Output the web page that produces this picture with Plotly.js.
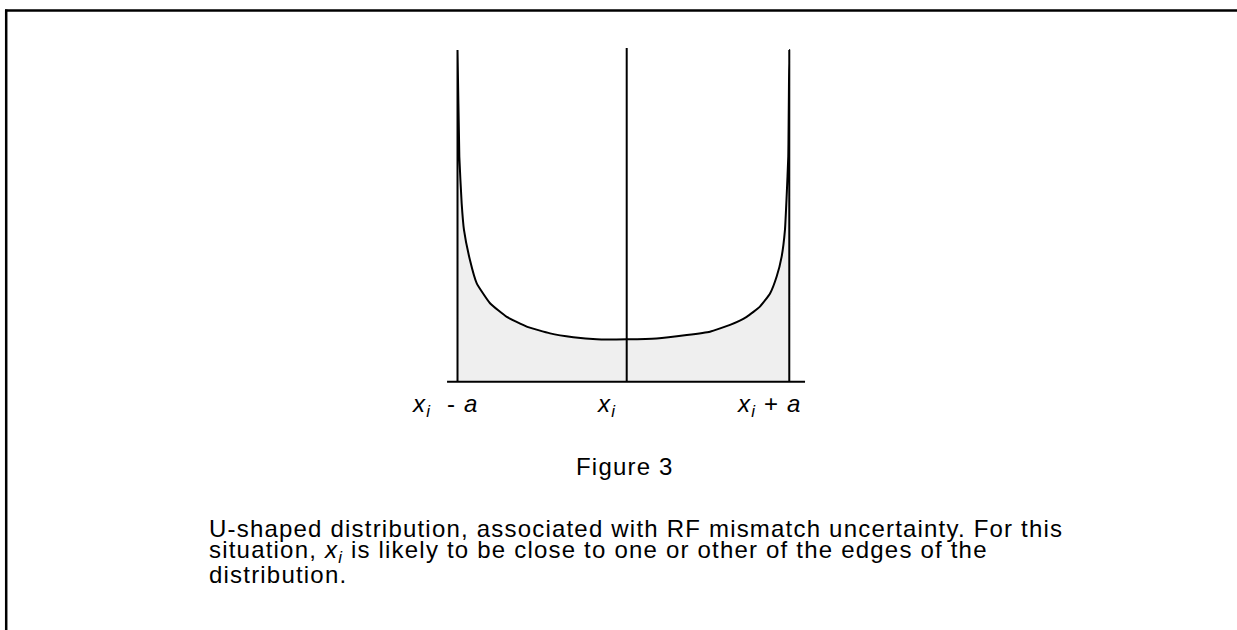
<!DOCTYPE html>
<html>
<head>
<meta charset="utf-8">
<script src="https://cdn.plot.ly/plotly-3.0.1.min.js"></script>
<style>
  html, body { margin: 0; padding: 0; background: #fff; }
  #grafico { width: 1237px; height: 630px; }
  /* o texto original e um pouco mais largo que a Liberation Sans
     (sem prefixo de id para valer tambem no clone que o Plotly mede) */
  .annotation-text { letter-spacing: 1.2px; }
</style>
</head>
<body>
<div id="grafico"></div>
<script>
// x em unidades de a (paredes em -1 e +1), y relativo ao minimo da curva
const curvaX = [-1, -1, -0.989, -0.975, -0.961, -0.925, -0.884, -0.804, -0.703, -0.583, -0.442, -0.302, -0.161,
  0.02, 0.2, 0.382, 0.522, 0.643, 0.743, 0.823, 0.884, 0.924, 0.954, 0.974, 0.984, 0.994, 1, 1];
const curvaY = [0, 7.82, 5.31, 4.21, 3.58, 2.87, 2.32, 1.85, 1.53, 1.30, 1.14, 1.05, 1.00,
  1.00, 1.02, 1.10, 1.18, 1.34, 1.53, 1.77, 2.08, 2.48, 2.95, 3.58, 4.36, 5.31, 7.82, 0];

const centroX = [0.02, 0.02];
const centroY = [0, 7.87];

const baseX = [-1.063, 1.095];
const baseY = [0, 0];

const rotulos = [
  '<i>x</i><sub><i>i</i></sub>&nbsp; - <i>a</i>',
  '<i>x</i><sub><i>i</i></sub>',
  '<i>x</i><sub><i>i</i></sub> + <i>a</i>'
];
const rotulosX = [-1.075, -0.102, 0.878];

const legenda = 'Figure 3';
const paragrafo = [
  'U-shaped distribution, associated with RF mismatch uncertainty. For this',
  'situation, <i>x<sub>i</sub></i> is likely to be close to one or other of the edges of the',
  'distribution.'
];

const W = 1237, H = 630;
const fonte = { family: 'Liberation Sans, Arial, sans-serif', size: 24, color: '#000' };

const curva = {
  type: 'scatter',
  mode: 'lines',
  x: curvaX,
  y: curvaY,
  fill: 'tozeroy',
  fillcolor: '#efefef',
  line: { color: '#000', width: 2, shape: 'spline', smoothing: 0.4 },
  hoverinfo: 'skip'
};

const centro = {
  type: 'scatter',
  mode: 'lines',
  x: centroX,
  y: centroY,
  line: { color: '#000', width: 2 },
  hoverinfo: 'skip'
};

const base = {
  type: 'scatter',
  mode: 'lines',
  x: baseX,
  y: baseY,
  line: { color: '#000', width: 2 },
  hoverinfo: 'skip'
};

const anotacoes = [];
rotulos.forEach((t, i) => {
  anotacoes.push({
    text: t, x: rotulosX[i], y: -0.55, xref: 'x', yref: 'y',
    xanchor: 'center', yanchor: 'middle', showarrow: false, font: fonte
  });
});
anotacoes.push({
  text: legenda, x: 625 / W, y: 1 - 466 / H, xref: 'paper', yref: 'paper',
  xanchor: 'center', yanchor: 'middle', showarrow: false, font: fonte
});
const linhasY = [528, 551, 574];
paragrafo.forEach((t, i) => {
  anotacoes.push({
    text: t, x: 207 / W, y: 1 - linhasY[i] / H, xref: 'paper', yref: 'paper',
    xanchor: 'left', yanchor: 'middle', showarrow: false, font: fonte
  });
});

const layout = {
  width: W,
  height: H,
  margin: { l: 0, r: 0, t: 0, b: 0 },
  paper_bgcolor: '#fff',
  plot_bgcolor: '#fff',
  showlegend: false,
  xaxis: { range: [-3.758, 3.699], visible: false, fixedrange: true },
  yaxis: { range: [-5.856, 9.002], visible: false, fixedrange: true },
  annotations: anotacoes,
  shapes: [
    { type: 'line', xref: 'paper', yref: 'paper', x0: 5 / W, x1: 1, y0: 1 - 10.5 / H, y1: 1 - 10.5 / H,
      line: { color: '#000', width: 2.5 } },
    { type: 'line', xref: 'paper', yref: 'paper', x0: 6.2 / W, x1: 6.2 / W, y0: 0, y1: 1 - 9.5 / H,
      line: { color: '#000', width: 2.5 } }
  ]
};

Plotly.newPlot('grafico', [curva, centro, base], layout, { displayModeBar: false, staticPlot: true });
</script>
</body>
</html>
